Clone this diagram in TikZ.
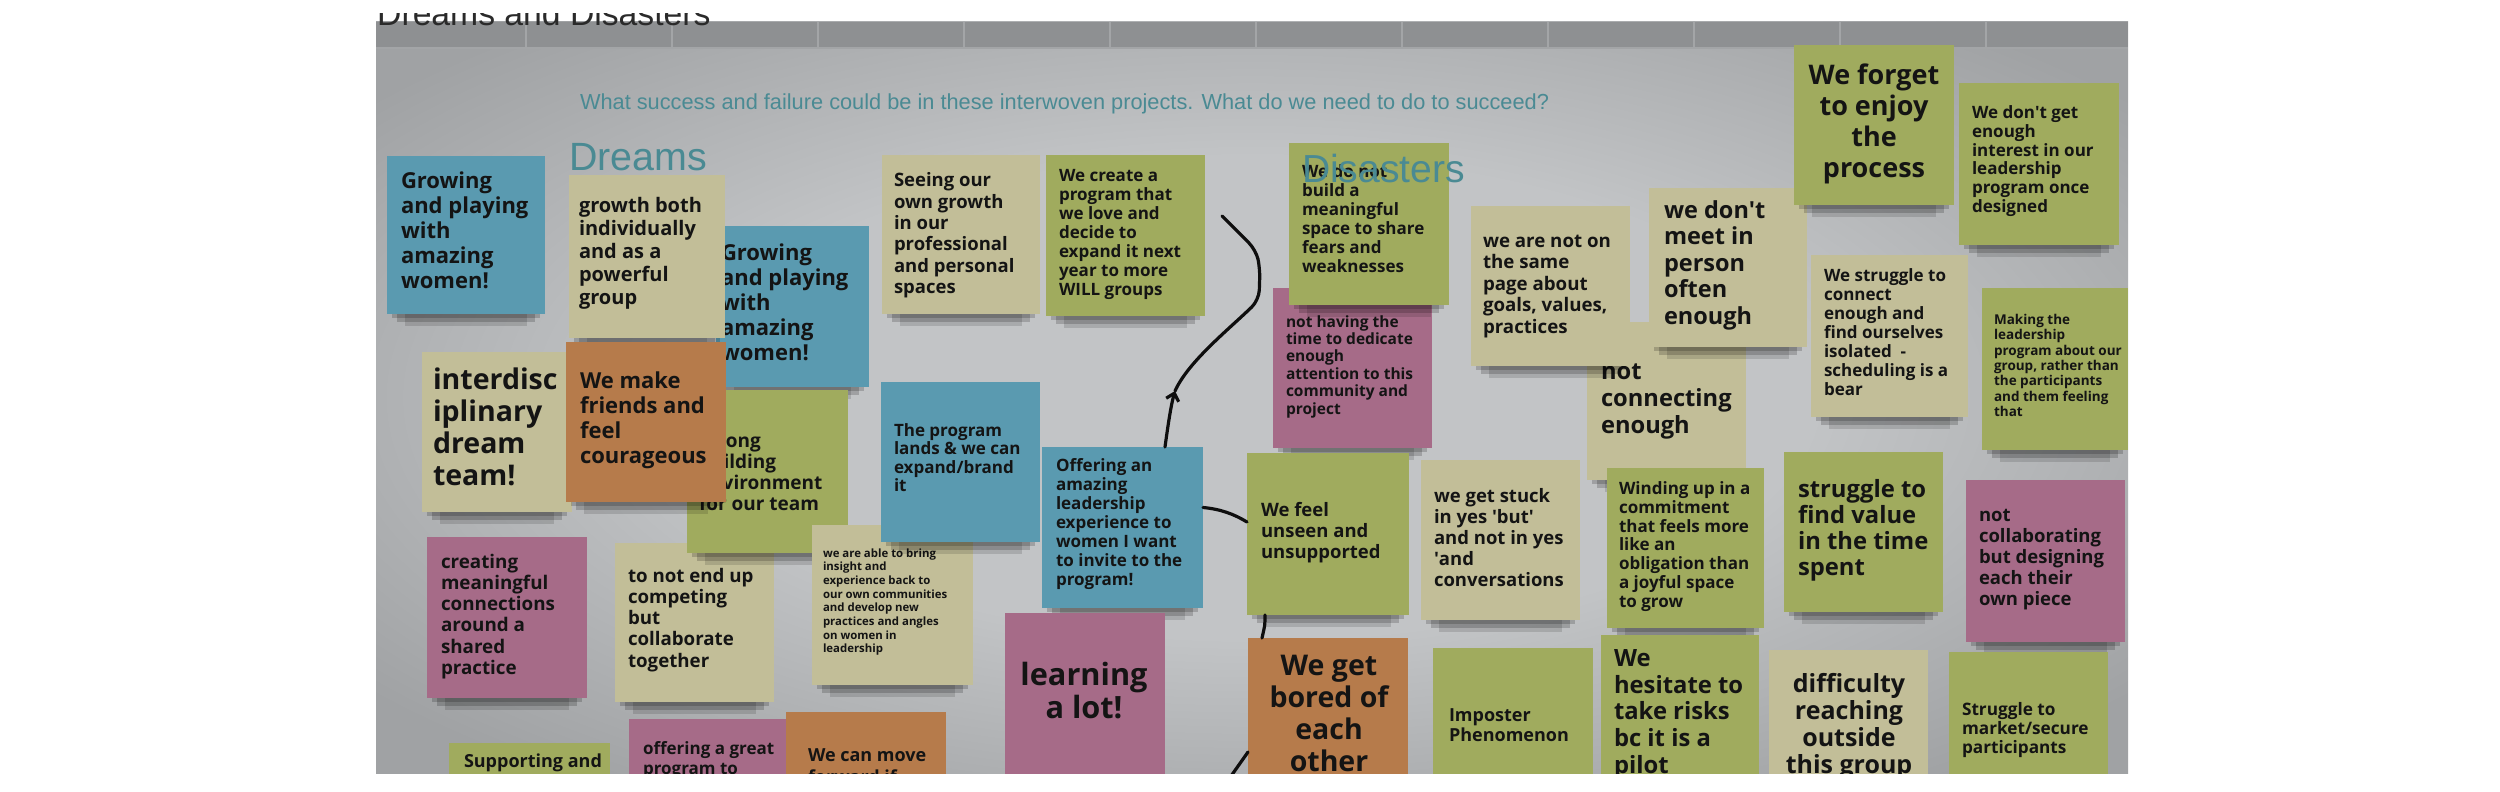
\documentclass[tikz,border=0pt]{standalone}
\usepackage{fontspec}
\setmainfont{Liberation Sans}
\newfontfamily\notefont{Open Sans}
\usetikzlibrary{arrows.meta}
\definecolor{bluec}{HTML}{5A9AB0}
\definecolor{creamc}{HTML}{C2BE98}
\definecolor{greenc}{HTML}{A0AB5E}
\definecolor{pinkc}{HTML}{A66B88}
\definecolor{orangec}{HTML}{B67B4B}
\definecolor{inkc}{HTML}{141414}
\definecolor{penc}{HTML}{0E0E0E}
\definecolor{tealc}{HTML}{4A8A93}
\definecolor{bin}{HTML}{C2C4C6}
\definecolor{bout}{HTML}{A0A2A4}
\definecolor{bandc}{HTML}{8E9092}
\definecolor{bandline}{HTML}{A3A5A7}
\definecolor{hdrc}{HTML}{2A2A2A}
\pgfdeclareradialshading{vign}{\pgfpoint{0bp}{0bp}}{color(0bp)=(bin); color(16bp)=(bin); color(32bp)=(bout); color(50bp)=(bout)}
\newcommand\sq{\textquotesingle}
\newcommand\postit[6]{%
  \fill[black,opacity=.18] (#3+5,#4+#6-3) rectangle (#3+#5-5,#4+#6+4);
  \fill[black,opacity=.18] (#3+10,#4+#6-3) rectangle (#3+#5-10,#4+#6+8);
  \fill[black,opacity=.13] (#3+18,#4+#6-3) rectangle (#3+#5-18,#4+#6+12);
  \node[postbox,fill=#2,minimum width=#5pt,minimum height=#6pt] (#1) at (#3,#4) {};}
\newcommand\ltext[6]{\node[ptxt,font=\notefont\bfseries\fontsize{#4}{#5}\selectfont] (#1) at (#2,#3-0.49*#4) {\rule{0pt}{.76em}#6};}
\newcommand\mtext[6]{\node[ctxt,font=\notefont\bfseries\fontsize{#4}{#5}\selectfont] (#1) at (#2,#3-0.49*#4) {\rule{0pt}{.76em}#6};}
\begin{document}
\begin{tikzpicture}[x=1pt,y=-1pt,
  postbox/.style={rectangle,inner sep=0pt,outer sep=0pt,anchor=north west,draw=none},
  ptxt/.style={anchor=north west,align=left,inner sep=0pt,outer sep=0pt,text=inkc},
  ctxt/.style={anchor=north,align=center,inner sep=0pt,outer sep=0pt,text=inkc},
  ink/.style={draw=penc,line width=3.2pt,line cap=round,line join=round},
  ttl/.style={text=tealc,inner sep=0pt,outer sep=0pt,anchor=base west}]
\useasboundingbox (0,0) rectangle (2500,792);
\fill[white] (0,0) rectangle (2500,792);
% board
\shade[shading=vign] (376,22) rectangle (2128,773);
\fill[bandc] (376,22) rectangle (2128,48);
\foreach \gx in {526,672,818,964,1110,1256,1402,1548,1694,1840,1986}
  \draw[bandline,line width=1.2pt] (\gx,22) -- (\gx,48);
\draw[bandline,line width=1.2pt] (376,48) -- (2128,48);
\begin{scope}
\clip (370,14) rectangle (900,40);
\node[anchor=base west,inner sep=0pt,text=hdrc,font=\fontsize{33.7}{40}\selectfont] (hdr) at (377,26) {Dreams and Disasters};
\end{scope}
\begin{scope}
\clip (376,22) rectangle (2128,773);
\node[ttl] (question) at (580,110) {\resizebox{969pt}{!}{\fontsize{21}{25}\selectfont What success and failure could be in these interwoven projects. What do we need to do to succeed?}};
\node[ttl,font=\fontsize{39.4}{44}\selectfont] (dreams) at (569,170) {Dreams};
% ---- Dreams notes
\postit{n3}{bluec}{716}{226}{153}{161}
\ltext{t3}{721}{255}{22}{24.8}{Growing\\and playing\\with\\amazing\\women!}
\postit{n2}{creamc}{569}{175}{156}{163}
\ltext{t2}{579}{207}{20}{23}{growth both\\individually\\and as a\\powerful\\group}
\postit{n1}{bluec}{387}{156}{158}{158}
\ltext{t1}{401}{183}{22}{25}{Growing\\and playing\\with\\amazing\\women!}
\postit{n4}{creamc}{882}{155}{158}{159}
\ltext{t4}{894}{182}{18.5}{21.3}{Seeing our\\own growth\\in our\\professional\\and personal\\spaces}
\postit{n5}{greenc}{1046}{155}{159}{161}
\ltext{t5}{1059}{177}{17}{19}{We create a\\program that\\we love and\\decide to\\expand it next\\year to more\\WILL groups}
\postit{n6}{creamc}{422}{352}{150}{160}
\ltext{t6}{433}{382}{28.5}{32}{interdisc\\iplinary\\dream\\team!}
\postit{n10}{creamc}{615}{543}{159}{159}
\ltext{t10}{628}{577}{18.7}{21.3}{to not end up\\competing\\but\\collaborate\\together}
\postit{n8}{greenc}{687}{390}{161}{163}
\ltext{t8}{699}{442}{19}{21}{Strong\\building\\environment\\for our team}
\postit{n7}{orangec}{566}{342}{160}{160}
\ltext{t7}{580}{383}{22}{25}{We make\\friends and\\feel\\courageous}
\postit{n9}{pinkc}{427}{537}{160}{161}
\ltext{t9}{441}{563}{18.8}{21.3}{creating\\meaningful\\connections\\around a\\shared\\practice}
\postit{n11}{creamc}{812}{525}{161}{160}
\ltext{t11}{823}{554}{11.4}{13.7}{we are able to bring\\insight and\\experience back to\\our own communities\\and develop new\\practices and angles\\on women in\\leadership}
\postit{n12}{bluec}{881}{382}{159}{160}
\ltext{t12}{894}{432}{17}{18.3}{The program\\lands \& we can\\expand/brand\\it}
\postit{n13}{bluec}{1042}{447}{161}{161}
\ltext{t13}{1056}{467}{17}{19}{Offering an\\amazing\\leadership\\experience to\\women I want\\to invite to the\\program!}
\postit{n14}{pinkc}{1005}{613}{160}{175}
\mtext{t14}{1084}{677}{30.7}{33}{learning\\a lot!}
\postit{n15}{greenc}{449}{743}{161}{60}
\ltext{t15}{464}{763}{18}{22}{Supporting and}
\postit{n16}{pinkc}{629}{719}{157}{80}
\ltext{t16}{643}{750}{17}{20}{offering a great\\program to}
\postit{n17}{orangec}{786}{712}{160}{90}
\ltext{t17}{808}{757}{18}{22}{We can move\\forward if}
% ---- Disasters notes
\postit{n19}{pinkc}{1273}{288}{159}{160}
\ltext{t19}{1286}{323}{15.5}{17.4}{not having the\\time to dedicate\\enough\\attention to this\\community and\\project}
\postit{n18}{greenc}{1289}{143}{160}{162}
\ltext{t18}{1302}{173}{17}{19}{We do not\\build a\\meaningful\\space to share\\fears and\\weaknesses}
\node[ttl,font=\fontsize{39.1}{44}\selectfont] (disasters) at (1302,182) {Disasters};
\postit{n22}{creamc}{1587}{322}{159}{158}
\ltext{t22}{1601}{373}{23.7}{27}{not\\connecting\\enough}
\postit{n20}{creamc}{1471}{206}{159}{160}
\ltext{t20}{1483}{242}{18.7}{21.5}{we are not on\\the same\\page about\\goals, values,\\practices}
\postit{n21}{creamc}{1649}{188}{158}{159}
\ltext{t21}{1664}{212}{23.5}{26.5}{we don\sq t\\meet in\\person\\often\\enough}
\postit{n23}{greenc}{1794}{45}{160}{160}
\mtext{t23}{1874}{77}{27}{31}{We forget\\to enjoy\\the\\process}
\postit{n24}{greenc}{1959}{83}{160}{162}
\ltext{t24}{1972}{114}{17}{18.8}{We don\sq t get\\enough\\interest in our\\leadership\\program once\\designed}
\postit{n25}{creamc}{1811}{255}{157}{162}
\ltext{t25}{1824}{277}{17}{19}{We struggle to\\connect\\enough and\\find ourselves\\isolated\ \ -\\scheduling is a\\bear}
\postit{n26}{greenc}{1982}{288}{146}{162}
\ltext{t26}{1994}{321}{13.5}{15.3}{Making the\\leadership\\program about our\\group, rather than\\the participants\\and them feeling\\that}
\postit{n27}{greenc}{1247}{453}{162}{162}
\ltext{t27}{1261}{511}{18.5}{21}{We feel\\unseen and\\unsupported}
\postit{n28}{creamc}{1421}{460}{159}{160}
\ltext{t28}{1434}{497}{18.5}{21}{we get stuck\\in yes \sq but\sq\\and not in yes\\\sq and\\conversations}
\postit{n29}{greenc}{1607}{468}{157}{160}
\ltext{t29}{1619}{490}{17}{18.8}{Winding up in a\\commitment\\that feels more\\like an\\obligation than\\a joyful space\\to grow}
\postit{n30}{greenc}{1784}{452}{159}{160}
\ltext{t30}{1798}{491}{23.8}{26}{struggle to\\find value\\in the time\\spent}
\postit{n31}{pinkc}{1966}{480}{159}{162}
\ltext{t31}{1979}{516}{18.5}{21}{not\\collaborating\\but designing\\each their\\own piece}
\postit{n32}{orangec}{1248}{638}{160}{150}
\mtext{t32}{1329}{668}{28.5}{32}{We get\\bored of\\each\\other}
\postit{n33}{greenc}{1433}{648}{160}{140}
\ltext{t33}{1449}{717}{18}{20}{Imposter\\Phenomenon}
\postit{n34}{greenc}{1601}{635}{158}{150}
\ltext{t34}{1614}{660}{23.8}{26.7}{We\\hesitate to\\take risks\\bc it is a\\pilot}
\postit{n35}{creamc}{1769}{650}{159}{140}
\mtext{t35}{1849}{686}{25}{27}{difficulty\\reaching\\outside\\this group}
\postit{n36}{greenc}{1949}{652}{159}{140}
\ltext{t36}{1962}{711}{17.2}{19}{Struggle to\\market/secure\\participants}
% ---- connectors
\coordinate (cs) at (1222,216);
\coordinate (ap) at (1175,391);
\coordinate (ce) at (1224,786);
\draw[ink,rounded corners=10pt] (cs) -- (1256,250) -- (1260,268) -- (1259,300) .. controls (1228,330) and (1188,362) .. (ap);
\draw[ink,-{Straight Barb[length=7pt,width=13pt]}] ([xshift=123pt]n13.north west) .. controls (1168,425) and (1171,405) .. (ap);
\draw[ink] ([yshift=20pt]n13.east) .. controls (1220,509) and (1234,514) .. ([yshift=12pt]n27.west);
\draw[ink] ([xshift=-63pt]n27.south) .. controls (1265,625) .. ([xshift=-66pt]n32.north);
\draw[ink] ([yshift=-39pt]n32.west) -- (ce);
\end{scope}
\end{tikzpicture}
\end{document}
